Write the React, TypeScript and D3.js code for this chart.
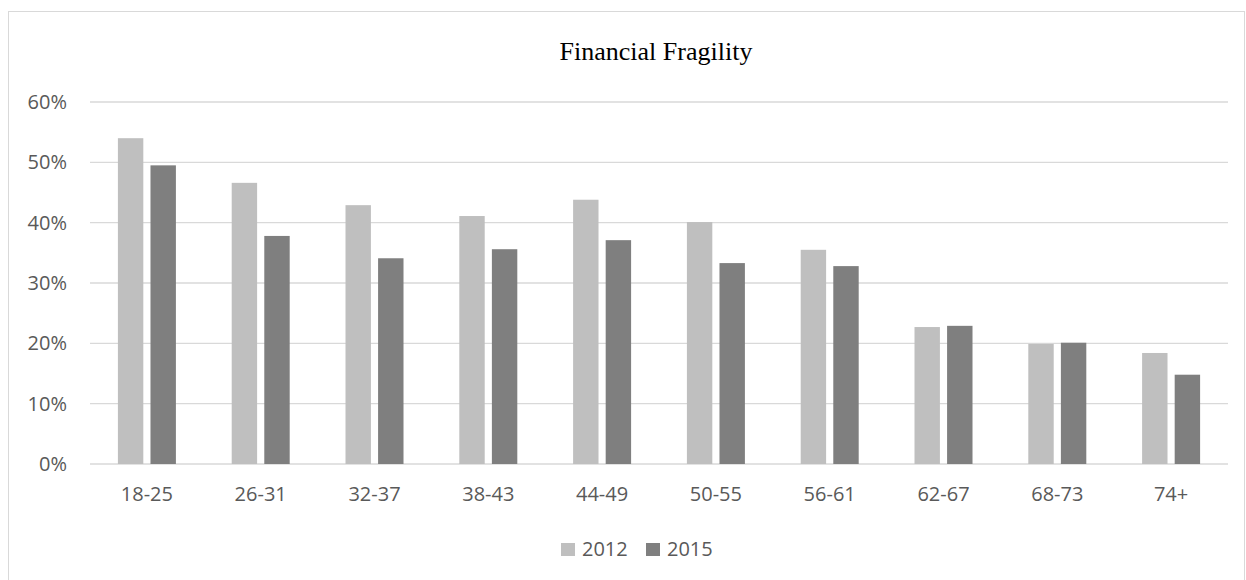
import React from 'react';
import * as d3 from 'd3';

const categories = ['18-25', '26-31', '32-37', '38-43', '44-49', '50-55', '56-61', '62-67', '68-73', '74+'];
const values2012 = [0.54, 0.466, 0.429, 0.411, 0.438, 0.401, 0.355, 0.227, 0.199, 0.184];
const values2015 = [0.495, 0.378, 0.341, 0.356, 0.371, 0.333, 0.328, 0.229, 0.201, 0.148];
const yTicks = [0, 0.1, 0.2, 0.3, 0.4, 0.5, 0.6];
const seriesNames = ['2012', '2015'];
const colors = ['#bfbfbf', '#7f7f7f'];

const W = 1246;
const H = 580;
const plot = { left: 90, right: 1228, top: 102, bottom: 464 };
const labelFont = '"Open Sans", sans-serif';

export default function App() {
  const x = d3.scaleBand<string>().domain(categories).range([plot.left, plot.right]);
  const y = d3.scaleLinear().domain([0, 0.6]).range([plot.bottom, plot.top]);
  const inner = d3.scaleBand<string>().domain(seriesNames).range([0, 58]).paddingInner(0.22);
  const fmt = d3.format('.0%');
  const series = [values2012, values2015];

  return (
    <svg width={W} height={H} style={{ position: 'absolute', left: 0, top: 0, background: '#fff' }}>
      <rect x={8.5} y={11.5} width={1236} height={580} fill="none" stroke="#d9d9d9" />
      <text x={656} y={60} textAnchor="middle" fontFamily='"Liberation Serif", "Times New Roman", serif' fontSize={26} fill="#000">
        Financial Fragility
      </text>
      {yTicks.map((t) => (
        <g key={t}>
          <line x1={plot.left} x2={plot.right} y1={y(t)} y2={y(t)} stroke="#d9d9d9" strokeWidth={1.3} />
          <text x={67} y={y(t) + 7} textAnchor="end" fontFamily={labelFont} fontSize={20} fill="#595959">
            {fmt(t)}
          </text>
        </g>
      ))}
      {categories.map((c, i) => {
        const cx = (x(c) as number) + x.bandwidth() / 2 - 29;
        return (
          <g key={c}>
            {series.map((vals, s) => (
              <rect
                key={s}
                x={cx + (inner(seriesNames[s]) as number)}
                y={y(vals[i])}
                width={inner.bandwidth()}
                height={plot.bottom - y(vals[i])}
                fill={colors[s]}
              />
            ))}
            <text x={cx + 29} y={501} textAnchor="middle" fontFamily={labelFont} fontSize={20} fill="#595959">
              {c}
            </text>
          </g>
        );
      })}
      {seriesNames.map((n, s) => (
        <g key={n} transform={`translate(${561 + s * 85}, 543)`}>
          <rect x={0} y={0} width={14} height={13} fill={colors[s]} />
          <text x={21} y={13} fontFamily={labelFont} fontSize={20} fill="#595959">
            {n}
          </text>
        </g>
      ))}
    </svg>
  );
}
